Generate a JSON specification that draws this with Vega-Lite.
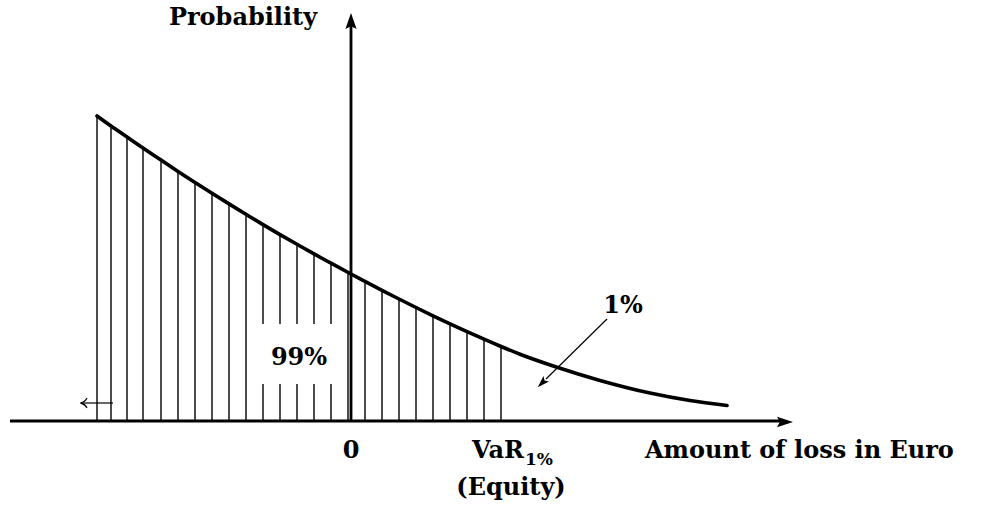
{
  "$schema": "https://vega.github.io/schema/vega-lite/v6.json",
  "width": 992,
  "height": 507,
  "autosize": {"type": "fit", "contains": "padding"},
  "padding": 0,
  "background": "white",
  "config": {"view": {"stroke": null}},
  "datasets": {
    "curve": [
      {"x": -254, "y": 305}, {"x": -240, "y": 295}, {"x": -224, "y": 284}, {"x": -208, "y": 273},
      {"x": -190, "y": 261}, {"x": -173, "y": 249.6}, {"x": -156, "y": 238.5}, {"x": -139, "y": 227.7},
      {"x": -122, "y": 217.1}, {"x": -105, "y": 206.7}, {"x": -88, "y": 196.4}, {"x": -71, "y": 186.4},
      {"x": -54, "y": 176.7}, {"x": -37, "y": 167.1}, {"x": -20, "y": 157.8}, {"x": 0, "y": 147},
      {"x": 14, "y": 139.6}, {"x": 31, "y": 130.7}, {"x": 48, "y": 122}, {"x": 65, "y": 113.5},
      {"x": 82, "y": 105.2}, {"x": 99, "y": 97.2}, {"x": 116, "y": 89.4}, {"x": 133, "y": 81.8},
      {"x": 150, "y": 74.5}, {"x": 169, "y": 66.8}, {"x": 206, "y": 53.8}, {"x": 249, "y": 40.6},
      {"x": 299, "y": 28}, {"x": 339, "y": 20.5}, {"x": 376, "y": 15.5}
    ],
    "hatch": [
      {"x": -254, "y": 305}, {"x": -240, "y": 295}, {"x": -224, "y": 284}, {"x": -208, "y": 273},
      {"x": -190, "y": 261}, {"x": -173, "y": 249.6}, {"x": -156, "y": 238.5}, {"x": -139, "y": 227.7},
      {"x": -122, "y": 217.1}, {"x": -105, "y": 206.7}, {"x": -88, "y": 196.4}, {"x": -71, "y": 186.4},
      {"x": -54, "y": 176.7}, {"x": -37, "y": 167.1}, {"x": -20, "y": 157.8}, {"x": -3, "y": 148.6},
      {"x": 14, "y": 139.6}, {"x": 31, "y": 130.7}, {"x": 48, "y": 122}, {"x": 65, "y": 113.5},
      {"x": 82, "y": 105.2}, {"x": 99, "y": 97.2}, {"x": 116, "y": 89.4}, {"x": 133, "y": 81.8},
      {"x": 150, "y": 74.5}
    ]
  },
  "layer": [
    {
      "data": {"name": "hatch"},
      "mark": {"type": "rule", "color": "black", "strokeWidth": 1.4},
      "encoding": {
        "x": {"field": "x", "type": "quantitative", "scale": {"domain": [-351, 641], "nice": false, "zero": false}, "axis": null},
        "y": {"field": "y", "type": "quantitative", "scale": {"domain": [-86, 421], "nice": false, "zero": false}, "axis": null},
        "y2": {"datum": 0}
      }
    },
    {
      "data": {"values": [{"x": -96, "x2": -10, "y": 37, "y2": 97}]},
      "mark": {"type": "rect", "fill": "white"},
      "encoding": {
        "x": {"field": "x", "type": "quantitative"},
        "x2": {"field": "x2"},
        "y": {"field": "y", "type": "quantitative"},
        "y2": {"field": "y2"}
      }
    },
    {
      "data": {"name": "curve"},
      "mark": {"type": "line", "color": "black", "strokeWidth": 3.6, "interpolate": "monotone", "strokeCap": "round"},
      "encoding": {
        "x": {"field": "x", "type": "quantitative"},
        "y": {"field": "y", "type": "quantitative"}
      }
    },
    {
      "data": {"values": [
        {"x": -341, "y": 0, "x2": 432, "y2": 0},
        {"x": 0, "y": 0, "x2": 0, "y2": 396}
      ]},
      "mark": {"type": "rule", "color": "black", "strokeWidth": 2.8},
      "encoding": {
        "x": {"field": "x", "type": "quantitative"},
        "y": {"field": "y", "type": "quantitative"},
        "x2": {"field": "x2"},
        "y2": {"field": "y2"}
      }
    },
    {
      "data": {"values": [
        {"x": 256, "y": 102, "x2": 195, "y2": 42},
        {"x": -238, "y": 18, "x2": -268, "y2": 18}
      ]},
      "mark": {"type": "rule", "color": "black", "strokeWidth": 1.2},
      "encoding": {
        "x": {"field": "x", "type": "quantitative"},
        "y": {"field": "y", "type": "quantitative"},
        "x2": {"field": "x2"},
        "y2": {"field": "y2"}
      }
    },
    {
      "data": {"values": [{"x": 0, "y": 400}]},
      "mark": {"type": "point", "shape": "M0,-1L0.7,1L0,0.65L-0.7,1Z", "filled": true, "color": "black", "opacity": 1, "size": 256, "angle": 0},
      "encoding": {
        "x": {"field": "x", "type": "quantitative"},
        "y": {"field": "y", "type": "quantitative"}
      }
    },
    {
      "data": {"values": [{"x": 434, "y": -1}]},
      "mark": {"type": "point", "shape": "M0,-1L0.65,1L0,0.65L-0.65,1Z", "filled": true, "color": "black", "opacity": 1, "size": 256, "angle": 90},
      "encoding": {
        "x": {"field": "x", "type": "quantitative"},
        "y": {"field": "y", "type": "quantitative"}
      }
    },
    {
      "data": {"values": [{"x": 191, "y": 38}]},
      "mark": {"type": "point", "shape": "M0,-1L0.65,1L0,0.6L-0.65,1Z", "filled": true, "color": "black", "opacity": 1, "size": 144, "angle": 225},
      "encoding": {
        "x": {"field": "x", "type": "quantitative"},
        "y": {"field": "y", "type": "quantitative"}
      }
    },
    {
      "data": {"values": [{"x": -266, "y": 18}]},
      "mark": {"type": "point", "shape": "M0.4,-1Q0,-0.2,-0.9,0Q0,0.2,0.4,1", "filled": false, "color": "black", "opacity": 1, "strokeWidth": 1.3, "size": 100},
      "encoding": {
        "x": {"field": "x", "type": "quantitative"},
        "y": {"field": "y", "type": "quantitative"}
      }
    },
    {
      "data": {"values": [
        {"x": -108, "y": 396, "label": "Probability"},
        {"x": 0, "y": -37, "label": "0"},
        {"x": 160, "y": -74, "label": "(Equity)"},
        {"x": 272, "y": 108, "label": "1%"},
        {"x": -52, "y": 56, "label": "99%"}
      ]},
      "mark": {"type": "text", "font": "DejaVu Serif", "fontWeight": "bold", "fontSize": 24, "align": "center", "baseline": "alphabetic", "color": "black"},
      "encoding": {
        "x": {"field": "x", "type": "quantitative"},
        "y": {"field": "y", "type": "quantitative"},
        "text": {"field": "label"}
      }
    },
    {
      "data": {"values": [
        {"x": 121, "y": -37, "label": "VaR"},
        {"x": 294, "y": -37, "label": "Amount of loss in Euro"}
      ]},
      "mark": {"type": "text", "font": "DejaVu Serif", "fontWeight": "bold", "fontSize": 24, "align": "left", "baseline": "alphabetic", "color": "black"},
      "encoding": {
        "x": {"field": "x", "type": "quantitative"},
        "y": {"field": "y", "type": "quantitative"},
        "text": {"field": "label"}
      }
    },
    {
      "data": {"values": [{"x": 174, "y": -44, "label": "1%"}]},
      "mark": {"type": "text", "font": "DejaVu Serif", "fontWeight": "bold", "fontSize": 17, "align": "left", "baseline": "alphabetic", "color": "black"},
      "encoding": {
        "x": {"field": "x", "type": "quantitative"},
        "y": {"field": "y", "type": "quantitative"},
        "text": {"field": "label"}
      }
    }
  ]
}
